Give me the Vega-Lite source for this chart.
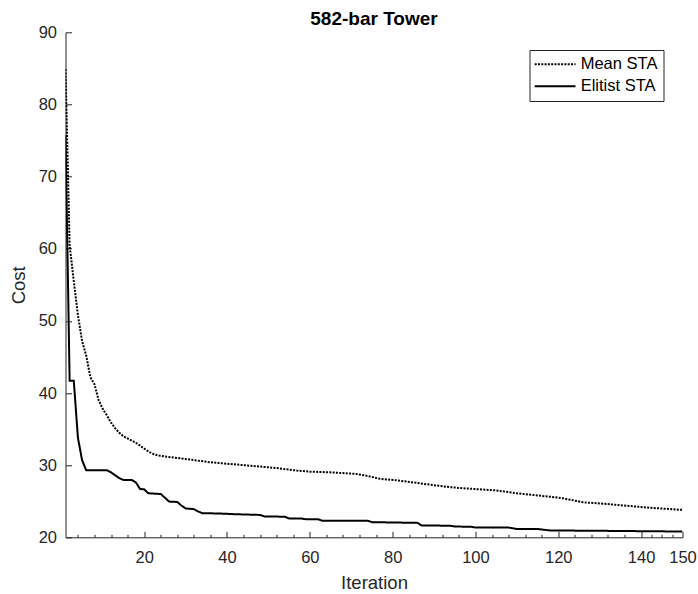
{
  "$schema": "https://vega.github.io/schema/vega-lite/v6.json",
  "width": 617,
  "height": 505,
  "autosize": {"type": "none"},
  "padding": {"left": 65.5, "top": 32.3, "right": 15.5, "bottom": 56.7},
  "background": "white",
  "title": {"text": "582-bar Tower", "font": "Liberation Sans", "fontSize": 19, "fontWeight": "bold", "color": "#000000", "anchor": "middle", "frame": "group", "offset": -5},
  "config": {"view": {"stroke": null}, "axis": {"grid": false}},
  "data": {"values": [
    {"s": "Mean STA", "it": 1, "v": 84.9},
    {"s": "Mean STA", "it": 2, "v": 60.5},
    {"s": "Mean STA", "it": 3, "v": 55.5},
    {"s": "Mean STA", "it": 4, "v": 50.8},
    {"s": "Mean STA", "it": 5, "v": 47.2},
    {"s": "Mean STA", "it": 6, "v": 45.2},
    {"s": "Mean STA", "it": 7, "v": 42.2},
    {"s": "Mean STA", "it": 8, "v": 41.2},
    {"s": "Mean STA", "it": 9, "v": 39.0},
    {"s": "Mean STA", "it": 10, "v": 37.8},
    {"s": "Mean STA", "it": 11, "v": 36.9},
    {"s": "Mean STA", "it": 12, "v": 35.9},
    {"s": "Mean STA", "it": 13, "v": 35.1},
    {"s": "Mean STA", "it": 14, "v": 34.5},
    {"s": "Mean STA", "it": 15, "v": 34.0},
    {"s": "Mean STA", "it": 16, "v": 33.7},
    {"s": "Mean STA", "it": 17, "v": 33.4},
    {"s": "Mean STA", "it": 18, "v": 33.1},
    {"s": "Mean STA", "it": 19, "v": 32.7},
    {"s": "Mean STA", "it": 20, "v": 32.3},
    {"s": "Mean STA", "it": 21, "v": 31.9},
    {"s": "Mean STA", "it": 22, "v": 31.6},
    {"s": "Mean STA", "it": 23, "v": 31.4},
    {"s": "Mean STA", "it": 25, "v": 31.2},
    {"s": "Mean STA", "it": 28, "v": 31.0},
    {"s": "Mean STA", "it": 32, "v": 30.7},
    {"s": "Mean STA", "it": 36, "v": 30.4},
    {"s": "Mean STA", "it": 40, "v": 30.2},
    {"s": "Mean STA", "it": 44, "v": 30.0},
    {"s": "Mean STA", "it": 48, "v": 29.8},
    {"s": "Mean STA", "it": 52, "v": 29.6},
    {"s": "Mean STA", "it": 56, "v": 29.3},
    {"s": "Mean STA", "it": 60, "v": 29.1},
    {"s": "Mean STA", "it": 65, "v": 29.0},
    {"s": "Mean STA", "it": 71, "v": 28.8},
    {"s": "Mean STA", "it": 74, "v": 28.5},
    {"s": "Mean STA", "it": 77, "v": 28.1},
    {"s": "Mean STA", "it": 81, "v": 27.9},
    {"s": "Mean STA", "it": 85, "v": 27.6},
    {"s": "Mean STA", "it": 89, "v": 27.3},
    {"s": "Mean STA", "it": 93, "v": 27.0},
    {"s": "Mean STA", "it": 97, "v": 26.8},
    {"s": "Mean STA", "it": 101, "v": 26.65},
    {"s": "Mean STA", "it": 105, "v": 26.5},
    {"s": "Mean STA", "it": 110, "v": 26.1},
    {"s": "Mean STA", "it": 115, "v": 25.8},
    {"s": "Mean STA", "it": 120, "v": 25.5},
    {"s": "Mean STA", "it": 123, "v": 25.2},
    {"s": "Mean STA", "it": 126, "v": 24.85},
    {"s": "Mean STA", "it": 130, "v": 24.7},
    {"s": "Mean STA", "it": 134, "v": 24.5},
    {"s": "Mean STA", "it": 138, "v": 24.3},
    {"s": "Mean STA", "it": 142, "v": 24.1},
    {"s": "Mean STA", "it": 146, "v": 23.95},
    {"s": "Mean STA", "it": 150, "v": 23.8},
    {"s": "Elitist STA", "it": 1, "v": 75.8},
    {"s": "Elitist STA", "it": 2, "v": 41.7},
    {"s": "Elitist STA", "it": 3, "v": 41.7},
    {"s": "Elitist STA", "it": 4, "v": 33.8},
    {"s": "Elitist STA", "it": 5, "v": 30.7},
    {"s": "Elitist STA", "it": 6, "v": 29.3},
    {"s": "Elitist STA", "it": 11, "v": 29.3},
    {"s": "Elitist STA", "it": 12, "v": 29.0},
    {"s": "Elitist STA", "it": 13, "v": 28.6},
    {"s": "Elitist STA", "it": 14, "v": 28.2},
    {"s": "Elitist STA", "it": 15, "v": 27.95},
    {"s": "Elitist STA", "it": 17, "v": 27.95},
    {"s": "Elitist STA", "it": 18, "v": 27.6},
    {"s": "Elitist STA", "it": 19, "v": 26.7},
    {"s": "Elitist STA", "it": 20, "v": 26.65},
    {"s": "Elitist STA", "it": 21, "v": 26.1},
    {"s": "Elitist STA", "it": 24, "v": 26.0},
    {"s": "Elitist STA", "it": 25, "v": 25.5},
    {"s": "Elitist STA", "it": 26, "v": 24.95},
    {"s": "Elitist STA", "it": 28, "v": 24.9},
    {"s": "Elitist STA", "it": 29, "v": 24.4},
    {"s": "Elitist STA", "it": 30, "v": 24.0},
    {"s": "Elitist STA", "it": 32, "v": 23.9},
    {"s": "Elitist STA", "it": 33, "v": 23.6},
    {"s": "Elitist STA", "it": 34, "v": 23.35},
    {"s": "Elitist STA", "it": 38, "v": 23.3},
    {"s": "Elitist STA", "it": 42, "v": 23.2},
    {"s": "Elitist STA", "it": 48, "v": 23.1},
    {"s": "Elitist STA", "it": 49, "v": 22.9},
    {"s": "Elitist STA", "it": 54, "v": 22.85},
    {"s": "Elitist STA", "it": 55, "v": 22.6},
    {"s": "Elitist STA", "it": 58, "v": 22.6},
    {"s": "Elitist STA", "it": 59, "v": 22.5},
    {"s": "Elitist STA", "it": 62, "v": 22.5},
    {"s": "Elitist STA", "it": 63, "v": 22.3},
    {"s": "Elitist STA", "it": 74, "v": 22.3},
    {"s": "Elitist STA", "it": 75, "v": 22.1},
    {"s": "Elitist STA", "it": 86, "v": 22.0},
    {"s": "Elitist STA", "it": 87, "v": 21.65},
    {"s": "Elitist STA", "it": 94, "v": 21.6},
    {"s": "Elitist STA", "it": 95, "v": 21.5},
    {"s": "Elitist STA", "it": 99, "v": 21.45},
    {"s": "Elitist STA", "it": 100, "v": 21.35},
    {"s": "Elitist STA", "it": 108, "v": 21.35},
    {"s": "Elitist STA", "it": 110, "v": 21.15},
    {"s": "Elitist STA", "it": 115, "v": 21.15},
    {"s": "Elitist STA", "it": 118, "v": 20.95},
    {"s": "Elitist STA", "it": 130, "v": 20.9},
    {"s": "Elitist STA", "it": 150, "v": 20.8}
  ]},
  "mark": {"type": "line", "strokeWidth": 2, "color": "#000000", "clip": true},
  "encoding": {
    "x": {
      "field": "it", "type": "quantitative",
      "scale": {"domain": [1, 150], "nice": false, "zero": false},
      "axis": {
        "title": "Iteration",
        "values": [4, 8, 12, 16, 20, 24, 28, 32, 36, 40, 44, 48, 52, 56, 60, 64, 68, 72, 76, 80, 84, 88, 92, 96, 100, 104, 108, 112, 116, 120, 124, 128, 132, 136, 140, 142.5, 145, 147.5, 150],
        "labelExpr": "(datum.value % 20 === 0 || datum.value === 150) ? datum.label : ''",
        "tickSize": {"condition": {"test": "datum.value % 20 === 0 || datum.value === 150", "value": -6}, "value": -3},
        "labelPadding": 18.5,
        "labelFont": "Liberation Sans", "labelFontSize": 16.5, "labelColor": "#262626",
        "titleFont": "Liberation Sans", "titleFontSize": 18.5, "titleFontWeight": "normal", "titleColor": "#262626",
        "titlePadding": 4,
        "domainColor": "#262626", "tickColor": "#262626", "domainWidth": 1, "tickWidth": 1,
        "labelFlush": false, "labelOverlap": false
      }
    },
    "y": {
      "field": "v", "type": "quantitative",
      "scale": {"domain": [20, 90], "nice": false, "zero": false},
      "axis": {
        "title": "Cost",
        "values": [20, 30, 40, 50, 60, 70, 80, 90],
        "tickSize": -6,
        "labelPadding": 15,
        "labelFont": "Liberation Sans", "labelFontSize": 16.5, "labelColor": "#262626",
        "titleFont": "Liberation Sans", "titleFontSize": 18.5, "titleFontWeight": "normal", "titleColor": "#262626",
        "titlePadding": 10,
        "domainColor": "#262626", "tickColor": "#262626", "domainWidth": 1, "tickWidth": 1,
        "labelFlush": false, "labelOverlap": false
      }
    },
    "detail": {"field": "s"},
    "strokeDash": {
      "field": "s", "type": "nominal",
      "scale": {"domain": ["Mean STA", "Elitist STA"], "range": [[2, 1.3], [1, 0]]},
      "legend": {
        "title": null, "orient": "none", "legendX": 464, "legendY": 17.7,
        "symbolType": "M-5.1,0H5.1", "symbolSize": 64, "symbolOffset": 11.35, "symbolStrokeWidth": 2, "symbolStrokeColor": "#000000",
        "labelFont": "Liberation Sans", "labelFontSize": 16.5, "labelColor": "#000000", "labelOffset": 17.35,
        "strokeColor": "#262626", "fillColor": "white", "padding": 6, "rowPadding": 5
      }
    }
  }
}
